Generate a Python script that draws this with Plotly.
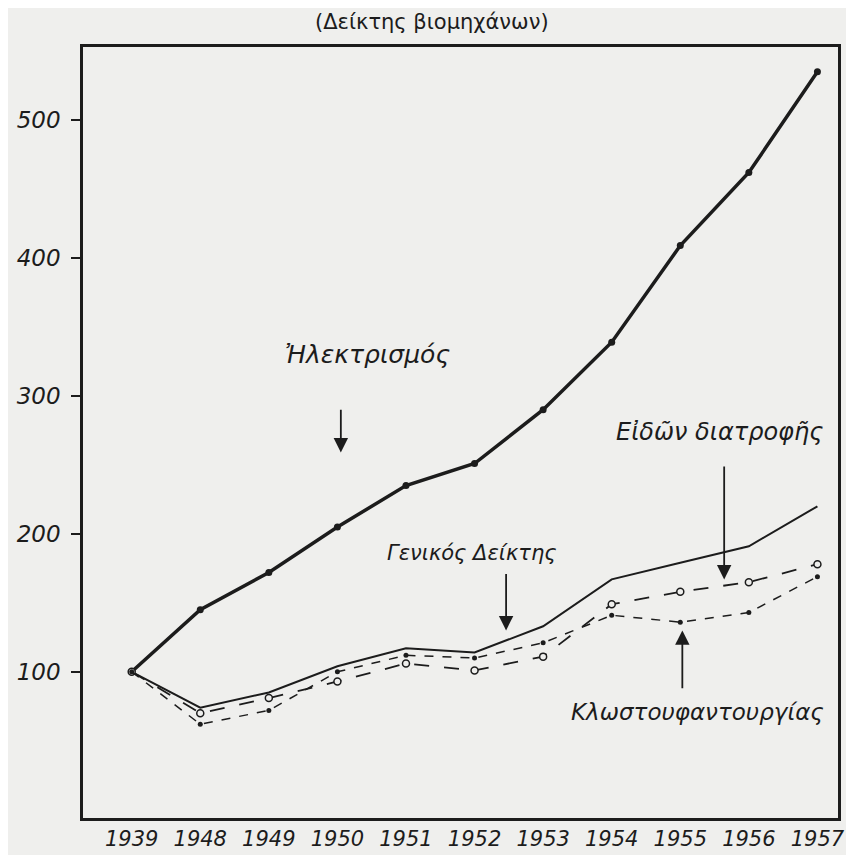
import plotly.graph_objects as go

years = ["1939", "1948", "1949", "1950", "1951", "1952", "1953", "1954", "1955", "1956", "1957"]
electricity = [100, 145, 172, 205, 235, 251, 290, 339, 409, 462, 535]
general_index = [100, 74, 85, 104, 117, 114, 133, 167, 179, 191, 220]
food = [100, 70, 81, 93, 106, 101, 111, 149, 158, 165, 178]
textiles = [100, 62, 72, 100, 112, 110, 121, 141, 136, 143, 169]
y_ticks = [100, 200, 300, 400, 500]

INK = "#1c1c1c"
BG = "#efefed"
FONT = "DejaVu Sans"

fig = go.Figure()
fig.add_trace(go.Scatter(x=years, y=electricity, mode="lines+markers",
                         line=dict(color=INK, width=3.5),
                         marker=dict(size=7, color=INK), name="Ἠλεκτρισμός"))
fig.add_trace(go.Scatter(x=years, y=general_index, mode="lines",
                         line=dict(color=INK, width=2), name="Γενικός Δείκτης"))
fig.add_trace(go.Scatter(x=years, y=food, mode="lines+markers",
                         line=dict(color=INK, width=1.8, dash="longdash"),
                         marker=dict(size=7, color=BG, symbol="circle",
                                     line=dict(color=INK, width=1.5)),
                         name="Εἰδῶν διατροφῆς"))
fig.add_trace(go.Scatter(x=years, y=textiles, mode="lines+markers",
                         line=dict(color=INK, width=1.5, dash="dash"),
                         marker=dict(size=5, color=INK),
                         name="Κλωστουφαντουργίας"))

def label(text, x, y, size):
    fig.add_annotation(x=x, y=y, xref="x", yref="y", text=text, showarrow=False,
                       font=dict(family=FONT, size=size, color=INK, style="italic"))

def arrow(x, y_tip, y_tail):
    fig.add_annotation(x=x, y=y_tip, ax=x, ay=y_tail, xref="x", yref="y",
                       axref="x", ayref="y", text="", showarrow=True,
                       arrowhead=2, arrowsize=1.6, arrowwidth=1.8, arrowcolor=INK)

label("Ἠλεκτρισμός", 3.44, 330, 25)
arrow(3.05, 259, 291)
label("Γενικός Δείκτης", 4.96, 186, 21)
arrow(5.46, 130, 172)
label("Εἰδῶν διατροφῆς", 8.57, 274, 24)
arrow(8.64, 167, 250)
label("Κλωστουφαντουργίας", 8.25, 71, 23)
arrow(8.03, 130, 87)

fig.add_annotation(x=0.462, y=1.032, xref="paper", yref="paper", showarrow=False,
                   yanchor="middle", text="(Δείκτης βιομηχάνων)",
                   font=dict(family=FONT, size=21, color=INK))

fig.update_layout(
    width=838, height=847,
    margin=dict(l=75, r=1, t=39, b=37),
    paper_bgcolor=BG, plot_bgcolor=BG,
    showlegend=False,
    font=dict(family=FONT, color=INK),
)
fig.update_xaxes(type="category", range=[-0.71, 10.3], showgrid=False, zeroline=False,
                 showline=True, linecolor=INK, linewidth=2.5, mirror=True,
                 ticks="", tickfont=dict(family=FONT, size=21, color=INK, style="italic"))
fig.update_yaxes(range=[-6, 553], tickvals=y_ticks, ticktext=[str(v) for v in y_ticks],
                 showgrid=False, zeroline=False, showline=True, linecolor=INK,
                 linewidth=2.5, mirror=True, ticks="outside", ticklen=9, tickwidth=2,
                 tickcolor=INK, ticklabelstandoff=6,
                 tickfont=dict(family=FONT, size=23, color=INK, style="italic"))

fig.write_html("out.html")
